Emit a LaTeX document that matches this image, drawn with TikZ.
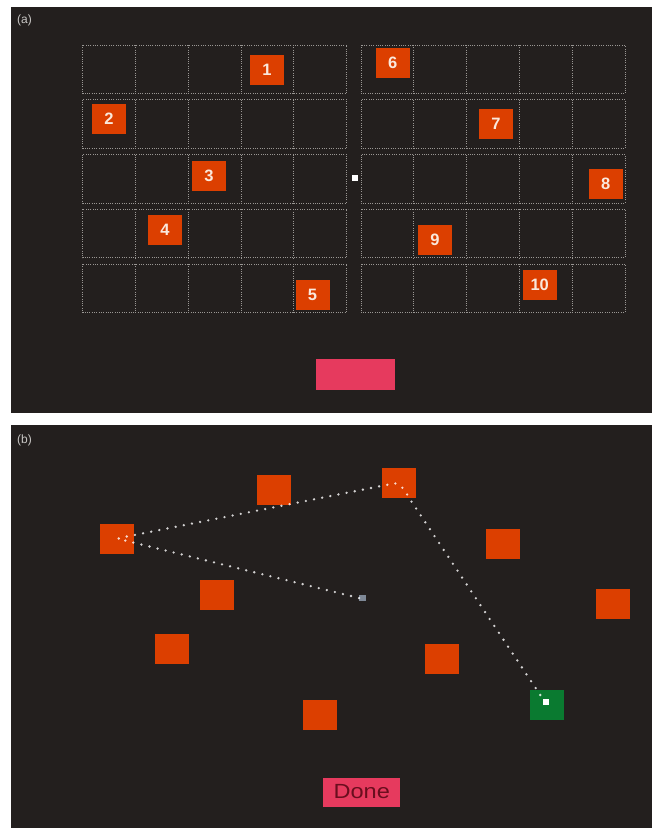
\documentclass[tikz,border=0pt]{standalone}
\usepackage{graphicx}
\usepackage{fontspec}
\setmainfont{Liberation Sans}
\definecolor{bg}{HTML}{231F1E}
\definecolor{tile}{HTML}{DC3F00}
\definecolor{btn}{HTML}{E63A5E}
\definecolor{okgreen}{HTML}{0A7A30}
\definecolor{gridc}{HTML}{9A9794}
\definecolor{numc}{HTML}{FAE8DC}
\definecolor{labc}{HTML}{C8C6C4}
\definecolor{cursorgray}{HTML}{7E8896}
\definecolor{donec}{HTML}{6A0E1E}
\begin{document}
\begin{tikzpicture}[x=1pt,y=-1pt,
  tilebox/.style={fill=tile, minimum width=34pt, minimum height=30pt, inner sep=0pt, text=numc, font=\fontsize{16.5}{16.5}\selectfont\bfseries},
  gridline/.style={gridc, line width=0.9pt, dash pattern=on 1pt off 1.3pt},
  panellabel/.style={text=labc, font=\fontsize{12}{12}\selectfont, inner sep=0pt},
  trail/.style={white, opacity=0.8, line width=2.6pt, line cap=round, dash pattern=on 0pt off 8.3pt},
  btnbox/.style={fill=btn, inner sep=0pt}
]
\useasboundingbox (0,0) rectangle (652,828);
\fill[white] (0,0) rectangle (652,828);
\fill[bg] (11,6.5) rectangle (652,413);
\fill[bg] (11,425) rectangle (652,828);

% grid of panel (a)
\foreach \r in {0,...,4} {
  \pgfmathsetmacro\rowtop{45+54.75*\r}
  \foreach \bx in {82.7,361} {
    \draw[gridline] (\bx,\rowtop) rectangle ++(264,48.5);
    \foreach \c in {1,...,4}
      \draw[gridline] ({\bx+52.8*\c},\rowtop) -- ++(0,48.5);
  }
}

\node[panellabel] (la) at (24.5,20) {(a)};
\node[panellabel] (lb) at (24.5,440) {(b)};

% panel (a) tiles
\node[tilebox] (n1) at (267,70.3) {1};
\node[tilebox] (n2) at (109,119) {2};
\node[tilebox] (n3) at (209,175.7) {3};
\node[tilebox] (n4) at (165,230) {4};
\node[tilebox] (n5) at (312.5,295.3) {5};
\node[tilebox] (n6) at (392.7,63.3) {6};
\node[tilebox] (n7) at (496,124) {7};
\node[tilebox] (n8) at (605.7,184.3) {8};
\node[tilebox] (n9) at (435,239.5) {9};
\node[tilebox] (n10) at (539.7,285) {10};
\node[fill=white, minimum size=6pt, inner sep=0pt] (fix) at (355,177.7) {};
\node[btnbox, minimum width=79pt, minimum height=31pt] (btnA) at (355.5,374.5) {};

% panel (b) tiles
\node[tilebox] (bA) at (274,490.3) {};
\node[tilebox] (bB) at (399,483) {};
\node[tilebox] (bC) at (116.5,538.7) {};
\node[tilebox] (bD) at (502.7,544) {};
\node[tilebox] (bE) at (216.5,595) {};
\node[tilebox] (bF) at (613,603.5) {};
\node[tilebox] (bG) at (172,649.3) {};
\node[tilebox] (bH) at (442.4,659) {};
\node[tilebox] (bI) at (319.7,715) {};
\node[fill=okgreen, minimum width=34pt, minimum height=30pt, inner sep=0pt] (target) at (547,704.7) {};
\node[fill=cursorgray, minimum size=6.5pt, inner sep=0pt] (start) at (362.5,598) {};
\node[fill=white, minimum size=6pt, inner sep=0pt] (cursor) at (546,702) {};

\draw[trail] (start.west) -- (127,541) -- (118,538.7) -- (124,537) -- (132,535.5)
  -- (386,485) -- (395,483.3) -- (401,486) -- (406,492.7) -- (410,499.3)
  -- (cursor.north west);

\node[btnbox, minimum width=77pt, minimum height=29pt, text=donec,
  font=\fontsize{20.5}{21}\selectfont] (done) at (361.7,792) {\scalebox{1.15}[1]{Done}};
\end{tikzpicture}
\end{document}
